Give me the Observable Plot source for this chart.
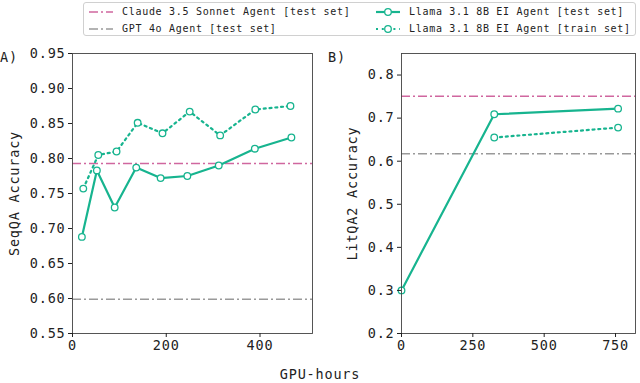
<!DOCTYPE html>
<html>
<head>
<meta charset="utf-8">
<script src="https://cdn.jsdelivr.net/npm/d3@7"></script>
<script src="https://cdn.jsdelivr.net/npm/@observablehq/plot@0.6"></script>
<style>
  html, body { margin: 0; padding: 0; background: #fff; }
  #root { position: relative; width: 640px; height: 383px; overflow: hidden; font-family: "DejaVu Sans Mono", monospace; color: #222; }
  #legend { position: absolute; left: 83px; top: 2px; width: 553px; height: 34px; border: 1px solid #d0d0d0; border-radius: 3px; box-sizing: border-box; }
  .leg { position: absolute; font-size: 10px; letter-spacing: 0.7px; white-space: nowrap; line-height: 12px; }
  .panel { position: absolute; font-size: 13.5px; letter-spacing: 0.8px; }
</style>
</head>
<body>
<div id="root"></div>
<script>
// ---- data ----
const seqqaHoursTest = [20, 52, 90, 136, 188, 245, 312, 389, 467];
const seqqaTest = [0.688, 0.783, 0.730, 0.787, 0.772, 0.775, 0.790, 0.814, 0.830];
const seqqaHoursTrain = [23, 55, 94, 139, 192, 250, 315, 390, 465];
const seqqaTrain = [0.757, 0.805, 0.810, 0.851, 0.836, 0.867, 0.833, 0.870, 0.875];
const seqqaClaude = 0.793;
const seqqaGPT = 0.599;

const litHoursTest = [0, 325, 759];
const litTest = [0.300, 0.709, 0.722];
const litHoursTrain = [325, 759];
const litTrain = [0.655, 0.678];
const litClaude = 0.751;
const litGPT = 0.617;

const seqqaYTicks = [0.55, 0.60, 0.65, 0.70, 0.75, 0.80, 0.85, 0.90, 0.95];
const seqqaXTicks = [0, 200, 400];
const litYTicks = [0.2, 0.3, 0.4, 0.5, 0.6, 0.7, 0.8];
const litXTicks = [0, 250, 500, 750];

const legendLabels = ["Claude 3.5 Sonnet Agent [test set]", "GPT 4o Agent [test set]", "Llama 3.1 8B EI Agent [test set]", "Llama 3.1 8B EI Agent [train set]"];
const panelLabels = ["A)", "B)"];
const yLabels = ["SeqQA Accuracy", "LitQA2 Accuracy"];
const xLabel = "GPU-hours";

// ---- styles ----
const TEAL = "#17b48f";
const PINK = "#d0679f";
const GRAY = "#9a9a9a";
const DASHDOT = "9,3,2,3";
const DOTTED = "2,3.8";

const root = document.getElementById("root");

function panel({hoursTest, test, hoursTrain, train, claude, gpt, xDomain, yDomain, xTicks, yTicks, yFmt, yLabel, left, marginLeft, marginRight, labelOffset}) {
  const tableTest = hoursTest.map((h, i) => ({h, v: test[i]}));
  const tableTrain = hoursTrain.map((h, i) => ({h, v: train[i]}));
  const chart = Plot.plot({
    width: 320,
    height: 320,
    marginTop: 13,
    marginBottom: 27,
    marginLeft,
    marginRight,
    style: {fontFamily: "DejaVu Sans Mono, monospace", fontSize: "13.5px", letterSpacing: "0.8px", color: "#222", background: "transparent", overflow: "visible"},
    x: {domain: xDomain},
    y: {domain: yDomain},
    marks: [
      Plot.ruleY([claude], {stroke: PINK, strokeWidth: 1.5, strokeDasharray: DASHDOT}),
      Plot.ruleY([gpt], {stroke: GRAY, strokeWidth: 1.5, strokeDasharray: DASHDOT}),
      Plot.line(tableTrain, {x: "h", y: "v", stroke: TEAL, strokeWidth: 2.2, strokeDasharray: DOTTED}),
      Plot.line(tableTest, {x: "h", y: "v", stroke: TEAL, strokeWidth: 2.2}),
      Plot.dot(tableTrain, {x: "h", y: "v", r: 3.3, stroke: TEAL, fill: "white", strokeWidth: 1.3}),
      Plot.dot(tableTest, {x: "h", y: "v", r: 3.3, stroke: TEAL, fill: "white", strokeWidth: 1.3}),
      Plot.frame({stroke: "#444", strokeWidth: 0.9}),
      Plot.axisX({ticks: xTicks, tickSize: 4, tickPadding: 3, label: null, tickFormat: d3.format("d")}),
      Plot.axisY({ticks: yTicks, tickSize: 4, tickPadding: 3, tickFormat: d3.format(yFmt), label: yLabel, labelAnchor: "center", labelArrow: "none", labelOffset})
    ]
  });
  chart.style.position = "absolute";
  chart.style.left = left + "px";
  chart.style.top = "40px";
  root.appendChild(chart);
}

panel({hoursTest: seqqaHoursTest, test: seqqaTest, hoursTrain: seqqaHoursTrain, train: seqqaTrain,
  claude: seqqaClaude, gpt: seqqaGPT, xDomain: [0, 512], yDomain: [0.55, 0.95], xTicks: seqqaXTicks, yTicks: seqqaYTicks,
  yFmt: ".2f", yLabel: yLabels[0], left: 0, marginLeft: 72, marginRight: 8, labelOffset: 63});

panel({hoursTest: litHoursTest, test: litTest, hoursTrain: litHoursTrain, train: litTrain,
  claude: litClaude, gpt: litGPT, xDomain: [0, 820], yDomain: [0.2, 0.85], xTicks: litXTicks, yTicks: litYTicks,
  yFmt: ".1f", yLabel: yLabels[1], left: 320, marginLeft: 81, marginRight: 5, labelOffset: 54});

// panel letters
[[panelLabels[0], 0], [panelLabels[1], 328]].forEach(([t, x]) => {
  const d = document.createElement("div");
  d.className = "panel";
  d.style.left = x + "px";
  d.style.top = "49px";
  d.textContent = t;
  root.appendChild(d);
});

// x label
const xl = document.createElement("div");
xl.className = "panel";
xl.style.left = "0px";
xl.style.width = "640px";
xl.style.textAlign = "center";
xl.style.top = "366px";
xl.textContent = xLabel;
root.appendChild(xl);

// legend
const leg = document.createElement("div");
leg.id = "legend";
root.appendChild(leg);
const entries = [
  {label: legendLabels[0], color: PINK, dash: DASHDOT, marker: false, x: 4, y: 3},
  {label: legendLabels[1], color: GRAY, dash: DASHDOT, marker: false, x: 4, y: 20},
  {label: legendLabels[2], color: TEAL, dash: null, marker: true, x: 291, y: 3},
  {label: legendLabels[3], color: TEAL, dash: DOTTED, marker: true, x: 291, y: 20}
];
entries.forEach(e => {
  const w = document.createElementNS("http://www.w3.org/2000/svg", "svg");
  w.setAttribute("width", 26); w.setAttribute("height", 12);
  w.style.position = "absolute"; w.style.left = e.x + "px"; w.style.top = e.y + "px";
  const ln = document.createElementNS("http://www.w3.org/2000/svg", "line");
  ln.setAttribute("x1", 1); ln.setAttribute("x2", 25); ln.setAttribute("y1", 6); ln.setAttribute("y2", 6);
  ln.setAttribute("stroke", e.color); ln.setAttribute("stroke-width", e.marker ? 2.2 : 1.5);
  if (e.dash) ln.setAttribute("stroke-dasharray", e.dash);
  w.appendChild(ln);
  if (e.marker) {
    const c = document.createElementNS("http://www.w3.org/2000/svg", "circle");
    c.setAttribute("cx", 13); c.setAttribute("cy", 6); c.setAttribute("r", 3.3);
    c.setAttribute("fill", "white"); c.setAttribute("stroke", e.color); c.setAttribute("stroke-width", 1.3);
    w.appendChild(c);
  }
  leg.appendChild(w);
  const t = document.createElement("div");
  t.className = "leg";
  t.style.left = (e.x + 34) + "px";
  t.style.top = e.y + "px";
  t.textContent = e.label;
  leg.appendChild(t);
});
</script>
</body>
</html>
